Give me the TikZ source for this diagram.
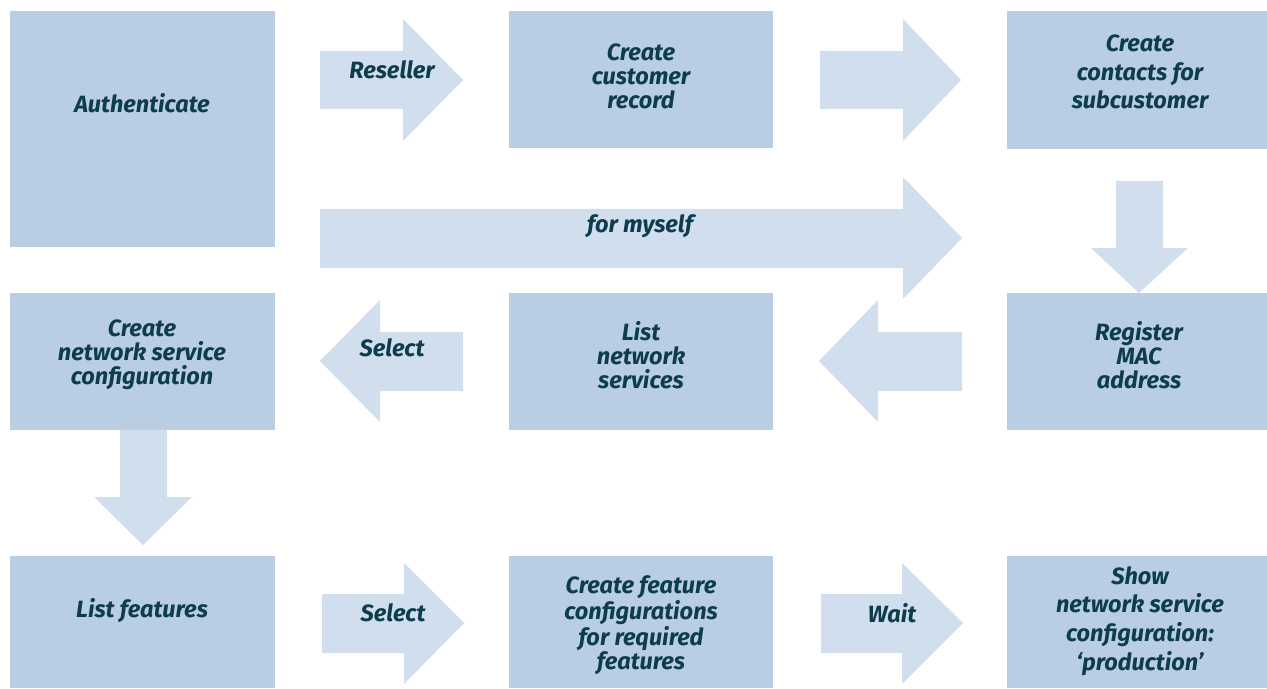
\documentclass[tikz,border=0pt]{standalone}
\usepackage{fontspec}
\setmainfont{Fira Sans}
\usetikzlibrary{positioning}
\definecolor{boxblue}{RGB}{185,206,227}
\definecolor{arrowblue}{RGB}{209,222,238}
\definecolor{inkteal}{RGB}{13,60,76}
\tikzset{
  stepbox/.style={fill=boxblue},
  flowarrow/.style={fill=arrowblue},
  steptext/.style={text=inkteal, align=center, inner sep=0pt,
    font=\fontsize{13.4}{13.6}\selectfont\bfseries\itshape},
  widetext/.style={steptext, font=\fontsize{13.4}{16.3}\selectfont\bfseries\itshape},
}

\begin{document}
\begin{tikzpicture}[x=0.02cm, y=-0.02cm]
        \path[use as bounding box] (0,0) rectangle (1267,689);

        % Draw step boxes
        \fill[stepbox] (10,11) rectangle (275,247);
        \fill[stepbox] (509,11) rectangle (773,148);
        \fill[stepbox] (1007,11) rectangle (1267,149);
        \fill[stepbox] (10,293) rectangle (275,430);
        \fill[stepbox] (509,293) rectangle (773,430);
        \fill[stepbox] (1007,293) rectangle (1267,430);
        \fill[stepbox] (10,556) rectangle (275,688);
        \fill[stepbox] (509,556) rectangle (773,688);
        \fill[stepbox] (1007,556) rectangle (1267,688);

        % Draw block arrows (top row)
        \fill[flowarrow] (320,51) -- (403,51) -- (403,19) -- (463,80) -- (403,141) -- (403,109) -- (320,109) -- cycle;
        \fill[flowarrow] (820,51) -- (903,51) -- (903,19) -- (961,80) -- (903,141) -- (903,109) -- (820,109) -- cycle;

        % Long arrow and down arrow on the right
        \fill[flowarrow] (320,209) -- (903,209) -- (903,177) -- (962,238) -- (903,299) -- (903,268) -- (320,268) -- cycle;
        \fill[flowarrow] (1116,181) -- (1163,181) -- (1163,248) -- (1188,248) -- (1139,293) -- (1091,248) -- (1116,248) -- cycle;

        % Middle row, pointing left
        \fill[flowarrow] (962,332) -- (878,332) -- (878,300) -- (819,361) -- (878,422) -- (878,391) -- (962,391) -- cycle;
        \fill[flowarrow] (463,332) -- (380,332) -- (380,300) -- (320,361) -- (380,422) -- (380,391) -- (463,391) -- cycle;

        % Down arrow on the left, bottom row
        \fill[flowarrow] (120,430) -- (167,430) -- (167,497) -- (192,497) -- (143,545) -- (94,497) -- (120,497) -- cycle;
        \fill[flowarrow] (322,594) -- (404,594) -- (404,563) -- (464,623) -- (404,684) -- (404,653) -- (322,653) -- cycle;
        \fill[flowarrow] (821,594) -- (902,594) -- (902,563) -- (963,623) -- (902,684) -- (902,653) -- (821,653) -- cycle;

        % Step texts
        \node[steptext] (auth) at (142,103) {Authenticate};
        \node[steptext] (custrec) at (641,76) {Create\\customer\\record};
        \node[widetext] (contacts) at (1140,72) {Create\\contacts for\\subcustomer};
        \node[steptext] (netconf) at (142,355) {Create\\network service\\configuration};
        \node[steptext] (listsvc) at (641,355) {List\\network\\services};
        \node[steptext] (regmac) at (1139,355) {Register\\MAC\\address};
        \node[steptext] (listfeat) at (142,611) {List features};
        \node[steptext] (featconf) at (641,625) {Create feature\\configurations\\for required\\features};
        \node[widetext] (showconf) at (1140,621) {Show\\network service\\configuration:\\‘production’};

        % Arrow labels
        \node[steptext] (reseller) at (392,70) {Reseller};
        \node[steptext] (myself) at (640,226) {for myself};
        \node[steptext] (selsvc) at (392,348) {Select};
        \node[steptext] (selfeat) at (393,613) {Select};
        \node[steptext] (wait) at (892,613) {Wait};
\end{tikzpicture}
\end{document}
